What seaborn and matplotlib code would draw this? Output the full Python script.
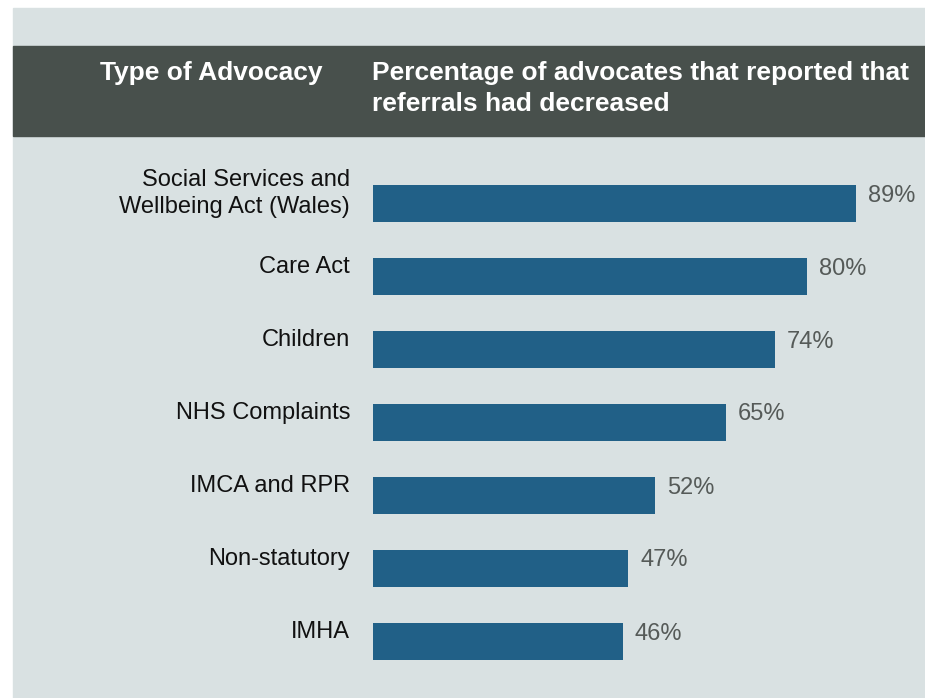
import seaborn as sns
import matplotlib.pyplot as plt
from matplotlib.patches import Rectangle
import pandas as pd

advocacy_types = [
    "Social Services and\nWellbeing Act (Wales)",
    "Care Act",
    "Children",
    "NHS Complaints",
    "IMCA and RPR",
    "Non-statutory",
    "IMHA",
]
pct_decreased = [89, 80, 74, 65, 52, 47, 46]
header_left = "Type of Advocacy"
header_right = "Percentage of advocates that reported that\nreferrals had decreased"

df = pd.DataFrame({"type": advocacy_types, "pct": pct_decreased})

sns.set_style("white")
plt.rcParams["font.family"] = ["Liberation Sans", "DejaVu Sans"]

W, H = 925, 698
fig = plt.figure(figsize=(W / 100, H / 100), dpi=100, facecolor="white")

# panel background and dark header band (pixel coords from top-left)
def px_rect(x0, y0, x1, y1, color):
    fig.patches.append(Rectangle((x0 / W, 1 - y1 / H), (x1 - x0) / W, (y1 - y0) / H,
                                 transform=fig.transFigure, color=color, zorder=-5))

px_rect(13, 8, W, H, "#d9e1e2")
px_rect(13, 46, W, 136, "#48504c")

fig.text(100 / W, 1 - 73 / H, header_left, color="white", fontsize=19,
         fontweight="bold", ha="left", va="center")
fig.text(372 / W, 1 - 88.5 / H, header_right, color="white", fontsize=19,
         fontweight="bold", ha="left", va="center", linespacing=1.37)

ax = fig.add_axes([373 / W, 1 - 678 / H, (W - 373) / W, 511 / H])
ax.set_zorder(2)
ax.patch.set_alpha(0)
sns.barplot(data=df, x="pct", y="type", color="#216087", saturation=1,
            width=0.52, linewidth=0, ax=ax)
ax.set_xlim(0, 101.7)
ax.set_ylim(6.5, -0.5)
ax.set_xticks([])
ax.set_yticks([])
ax.set_xlabel("")
ax.set_ylabel("")
sns.despine(ax=ax, left=True, bottom=True)

for i, (label, v) in enumerate(zip(advocacy_types, pct_decreased)):
    ax.annotate(label, xy=(0, i), xytext=(-23, 10), textcoords="offset pixels",
                ha="right", va="center", fontsize=17, color="#111111",
                linespacing=1.34, annotation_clip=False)
    ax.annotate(f"{v}%", xy=(v, i), xytext=(12, 8), textcoords="offset pixels",
                ha="left", va="center", fontsize=17, color="#555a58",
                annotation_clip=False)

fig.savefig("out.png", dpi=100, facecolor="white")
